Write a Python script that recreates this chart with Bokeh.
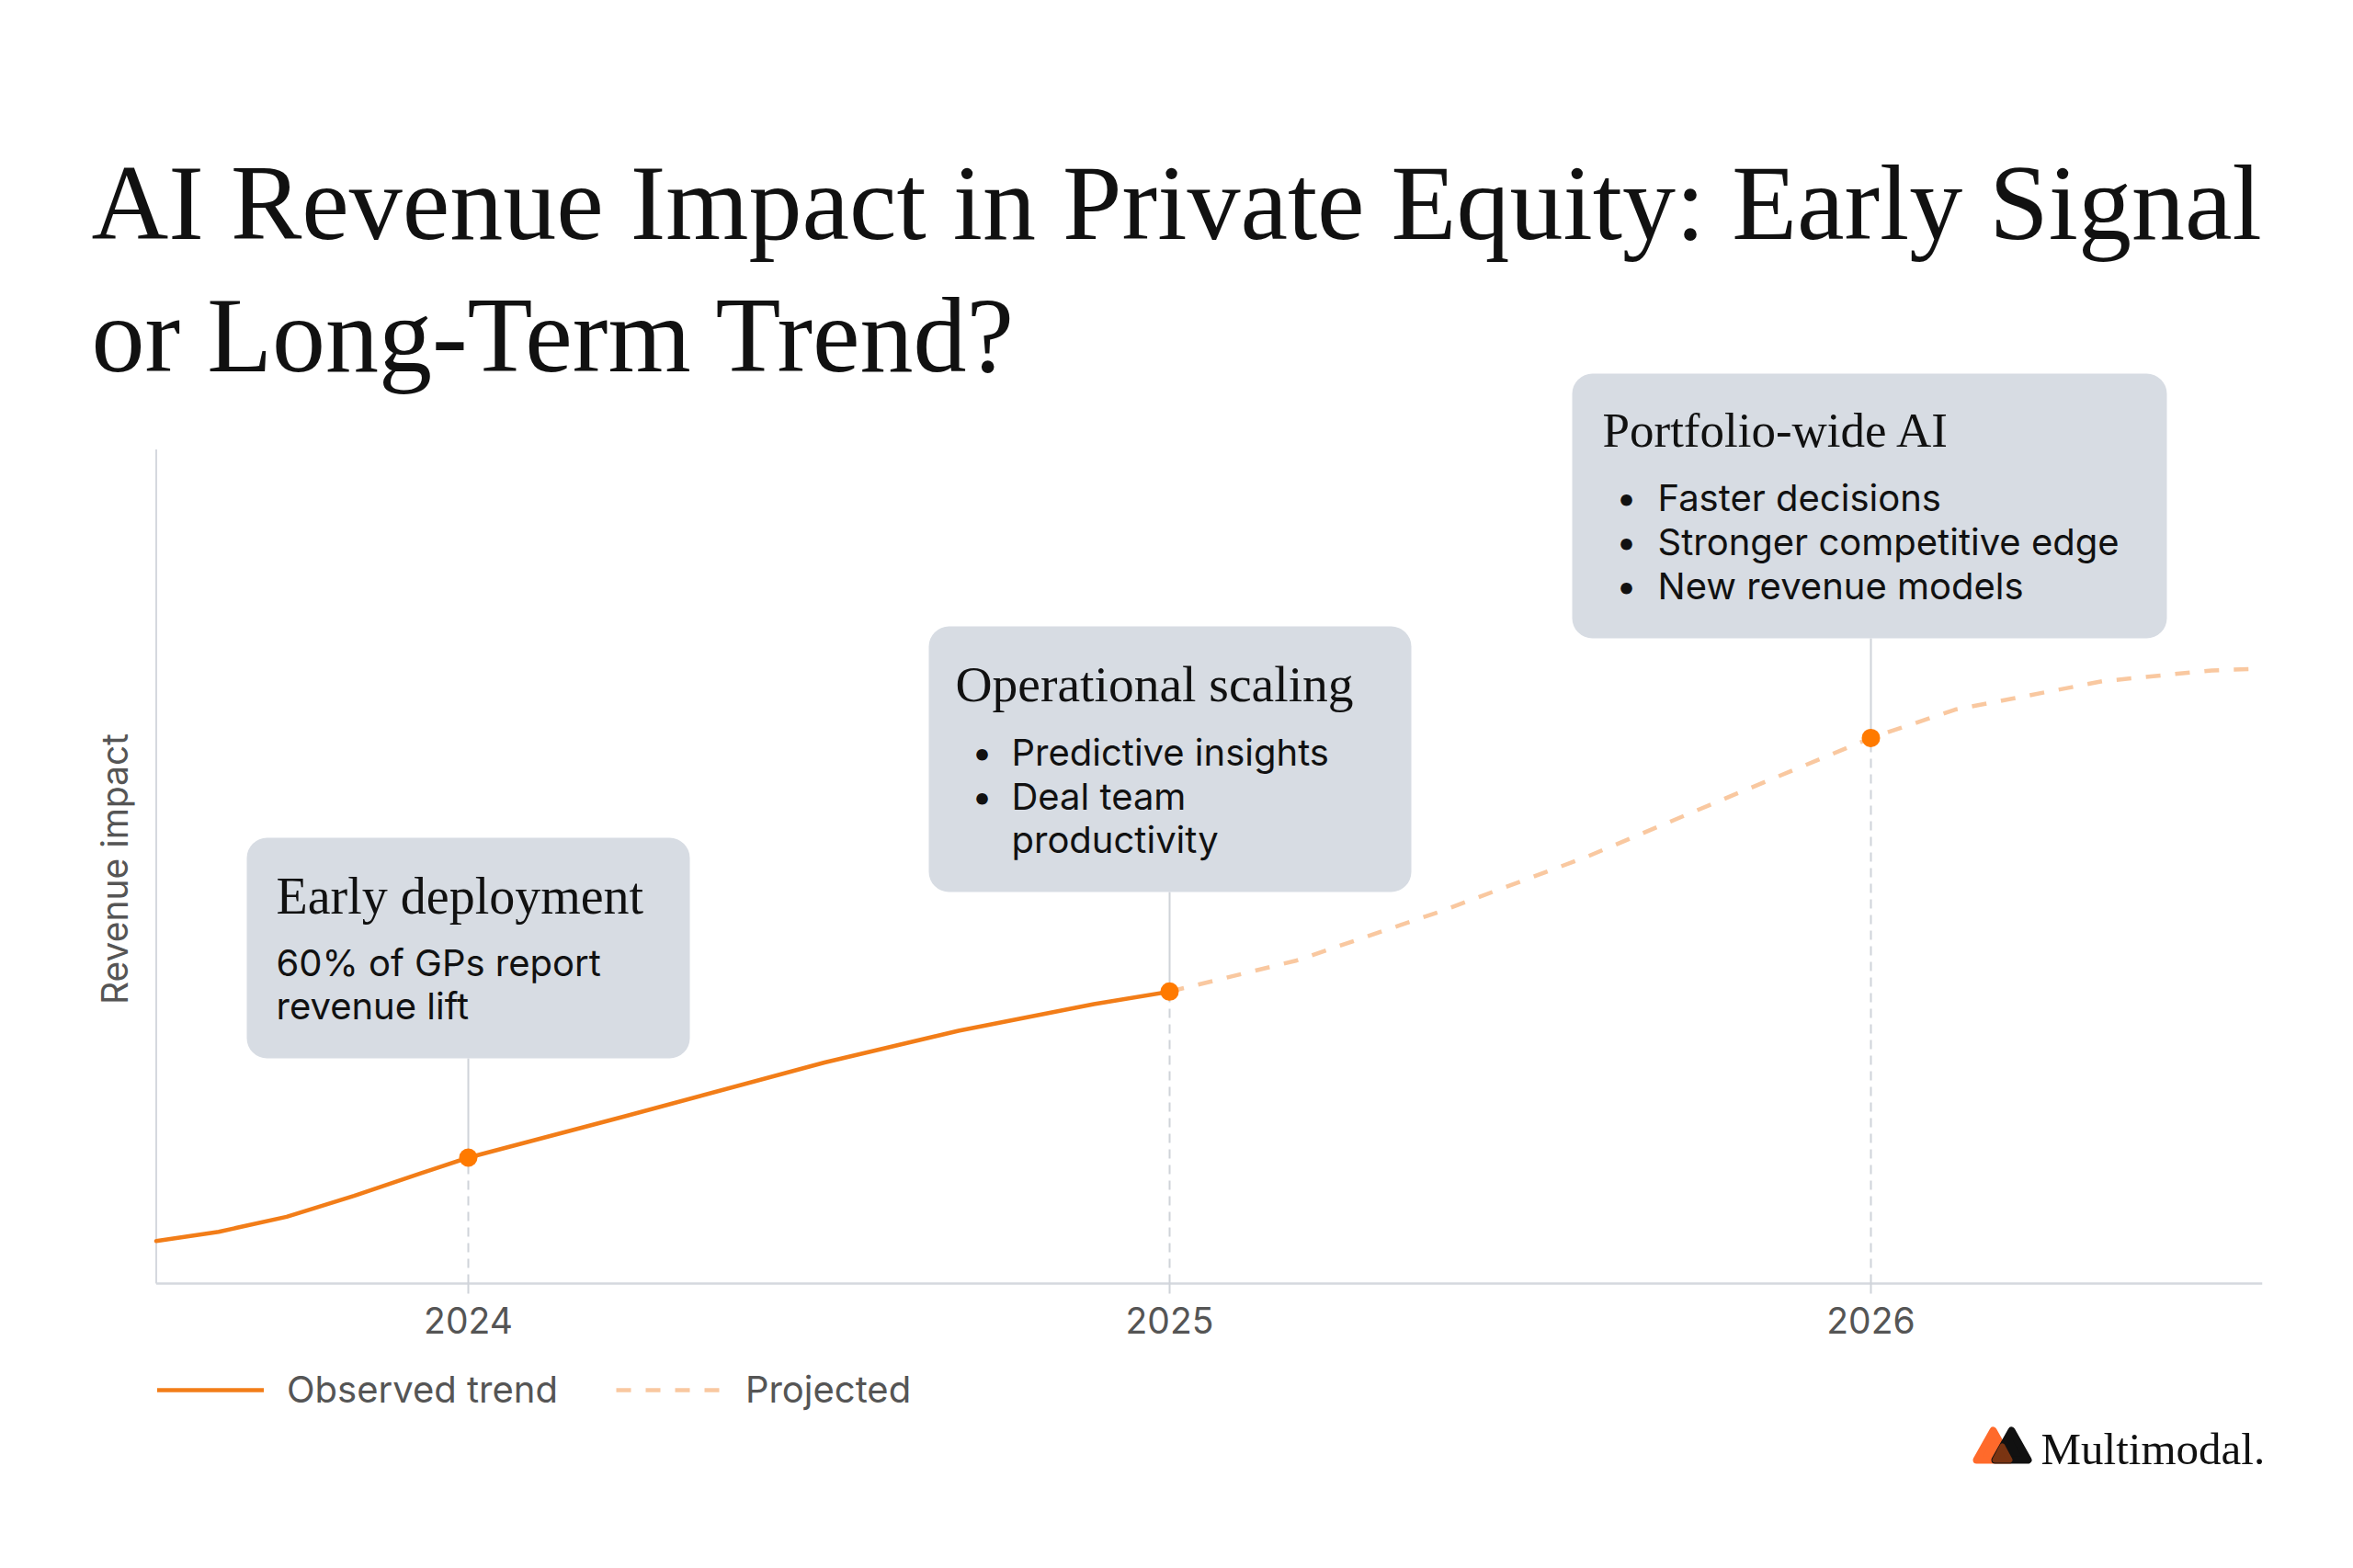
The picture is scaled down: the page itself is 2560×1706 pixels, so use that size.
from bokeh.plotting import figure
from bokeh.models import Range1d, FixedTicker, Label, Legend, LegendItem
from bokeh.core.properties import value
from bokeh.embed import file_html
from bokeh.resources import INLINE
import math

# ---------------- data ----------------
obs_year = [2023.555, 2023.644, 2023.741, 2023.837, 2023.932, 2024.0, 2024.221, 2024.508, 2024.699, 2024.892, 2025.0]
obs_val = [5.1, 6.2, 8.0, 10.5, 13.2, 15.1, 20.0, 26.5, 30.3, 33.5, 35.0]
proj_year = [2025.0, 2025.18, 2025.386, 2025.596, 2025.805, 2026.0, 2026.12, 2026.33, 2026.486, 2026.556]
proj_val = [35.0, 38.7, 44.6, 51.2, 58.6, 65.4, 68.8, 72.2, 73.5, 73.7]
milestone_year = [2024, 2025, 2026]
milestone_val = [15.1, 35.0, 65.4]
tick_labels = ["2024", "2025", "2026"]
x_start, x_end = 2023.555, 2026.558
y_axis_top = 100

title_lines = ["AI Revenue Impact in Private Equity: Early Signal", "or Long-Term Trend?"]
callout_titles = ["Early deployment", "Operational scaling", "Portfolio-wide AI"]
callout_bodies = [
    ["60% of GPs report", "revenue lift"],
    ["Predictive insights", "Deal team", "productivity"],
    ["Faster decisions", "Stronger competitive edge", "New revenue models"],
]
callout_bullets = [[False, False], [True, True, False], [True, True, True]]
legend_labels = ["Observed trend", "Projected"]
y_label = "Revenue impact"
brand = "Multimodal."

# ---------------- styling / layout ----------------
W, H = 2544, 1688
BOTTOM_BORDER = 90
FRAME_BOTTOM = H - BOTTOM_BORDER      # canvas px of frame bottom
AXIS_PY = 1396.0                      # canvas px of the x axis (value 0)
PX_PER_YEAR = 763.0
X2024 = 509.0
PX_PER_UNIT = 9.076
CORR = 0.28                           # baseline correction (fraction of font size)

ORANGE = "#F27D18"
DOT = "#FF7A00"
PEACH = "#F9C8A0"
BOX = "#D7DCE3"
GRID = "#CFD3D9"
AXIS = "#D5D8DE"
GRAY_TXT = "#555555"
INK = "#111111"
SERIF = "Liberation Serif"
SANS = "Inter"


def X(px):
    return 2024 + (px - X2024) / PX_PER_YEAR


def Y(py):
    return (AXIS_PY - py) / PX_PER_UNIT


def base(py, fs):
    return Y(py - CORR * fs)


p = figure(width=W, height=H, output_backend="svg", toolbar_location=None,
           x_range=Range1d(X(0), X(W)), y_range=Range1d(Y(FRAME_BOTTOM), Y(0)),
           y_axis_location=None,
           min_border_left=0, min_border_right=0, min_border_top=0,
           min_border_bottom=BOTTOM_BORDER)
p.outline_line_color = None
p.background_fill_color = "white"
p.border_fill_color = "white"
p.grid.visible = False

ax = p.xaxis[0]
ax.fixed_location = 0
ax.ticker = FixedTicker(ticks=milestone_year)
ax.major_label_overrides = dict(zip(milestone_year, tick_labels))
ax.axis_line_color = None
ax.major_tick_line_color = GRID
ax.major_tick_line_width = 2
ax.major_tick_in = 0
ax.major_tick_out = 11
ax.minor_tick_line_color = None
ax.major_label_standoff = 14
ax.major_label_text_font = SANS
ax.major_label_text_font_size = "39px"
ax.major_label_text_color = GRAY_TXT

# axis lines
p.segment(x0=[x_start], y0=[0], x1=[x_end], y1=[0], line_color=AXIS, line_width=2.5)
p.segment(x0=[x_start], y0=[0], x1=[x_start], y1=[y_axis_top], line_color=AXIS, line_width=2)

# callout geometry (canvas px)
box_l = [268, 1010, 1710]
box_r = [750, 1535, 2357]
box_t = [911, 681, 406]
box_b = [1151, 970, 694]

# connectors
p.segment(x0=milestone_year, y0=[0, 0, 0], x1=milestone_year, y1=milestone_val,
          line_color=GRID, line_width=2, line_dash="10 7")
p.segment(x0=milestone_year, y0=milestone_val, x1=milestone_year, y1=[Y(b) for b in box_b],
          line_color=GRID, line_width=2)

# curves
r_obs = p.line(obs_year, obs_val, line_color=ORANGE, line_width=4.5, line_cap="round", line_join="round")
r_proj = p.line(proj_year, proj_val, line_color=PEACH, line_width=4.5, line_dash="16 16")

# boxes
p.quad(left=[X(v) for v in box_l], right=[X(v) for v in box_r],
       top=[Y(v) for v in box_t], bottom=[Y(v) for v in box_b],
       fill_color=BOX, line_color=None, border_radius=22)

p.scatter(milestone_year, milestone_val, size=20, fill_color=DOT, line_color=None)

# callout texts
title_x = [300, 1039, 1743]
title_base = [990, 760, 482]
title_fs = [56, 55.5, 53]
body_base = [[1058, 1105], [829, 877, 924], [552, 600, 648]]
bullet_x = [None, 1068, 1769]
text_x = [300, 1100, 1803]
BODY_FS = 40

for i in range(3):
    p.text(x=[X(title_x[i])], y=[base(title_base[i], title_fs[i])], text=[callout_titles[i]],
           text_font=value(SERIF), text_font_size=f"{title_fs[i]}px", text_color=INK,
           text_baseline="alphabetic")

bx, by, bt, dx, dy = [], [], [], [], []
for i in range(3):
    for j, line in enumerate(callout_bodies[i]):
        bx.append(X(text_x[i]))
        by.append(base(body_base[i][j], BODY_FS))
        bt.append(line)
        if callout_bullets[i][j]:
            dx.append(X(bullet_x[i]))
            dy.append(base(body_base[i][j], BODY_FS))
p.text(x=bx, y=by, text=bt, text_font=value(SANS), text_font_size=f"{BODY_FS}px",
       text_color=INK, text_baseline="alphabetic")
p.text(x=dx, y=dy, text=["\u2022"] * len(dx), text_font=value(SANS), text_font_size=f"{BODY_FS}px",
       text_color=INK, text_baseline="alphabetic", text_align="center")

# y label
p.text(x=[X(124)], y=[Y(945)], text=[y_label], angle=math.pi / 2, text_font=value(SANS),
       text_font_size="39px", text_color=GRAY_TXT, text_align="center", text_baseline="middle")

# title
TITLE_FS = 116
for txt, b in zip(title_lines, [253, 397]):
    p.add_layout(Label(x=99, y=FRAME_BOTTOM - (b - CORR * TITLE_FS), x_units="screen", y_units="screen",
                       text=txt, text_font=SERIF, text_font_size=f"{TITLE_FS}px",
                       text_color=INK, text_baseline="alphabetic"))

# legend
legend = Legend(items=[LegendItem(label=legend_labels[0], renderers=[r_obs]),
                       LegendItem(label=legend_labels[1], renderers=[r_proj])],
                location=(171, FRAME_BOTTOM - 1536), orientation="horizontal",
                glyph_width=116, glyph_height=40, label_height=40, label_standoff=25,
                spacing=63, padding=0, margin=0, border_line_color=None,
                background_fill_alpha=0, label_text_font=SANS, label_text_font_size="40px",
                label_text_color=GRAY_TXT, label_text_baseline="middle")
p.add_layout(legend)

# brand mark
p.patch(x=[X(2150), X(2168), X(2186)], y=[Y(1588), Y(1556), Y(1588)],
        fill_color="#FF6A2B", line_color="#FF6A2B", line_width=8, line_join="round")
p.patch(x=[X(2170), X(2188), X(2206)], y=[Y(1588), Y(1556), Y(1588)],
        fill_color="#111111", line_color="#111111", line_width=8, line_join="round")
p.patch(x=[X(2170), X(2178), X(2186)], y=[Y(1588), Y(1573), Y(1588)],
        fill_color="#7A3412", line_color="#7A3412", line_width=6, line_join="round")
p.add_layout(Label(x=2220, y=FRAME_BOTTOM - (1590 - CORR * 49), x_units="screen", y_units="screen",
                   text=brand, text_font=SERIF, text_font_size="49px",
                   text_color=INK, text_baseline="alphabetic"))

open("out.html", "w").write(file_html(p, INLINE))
